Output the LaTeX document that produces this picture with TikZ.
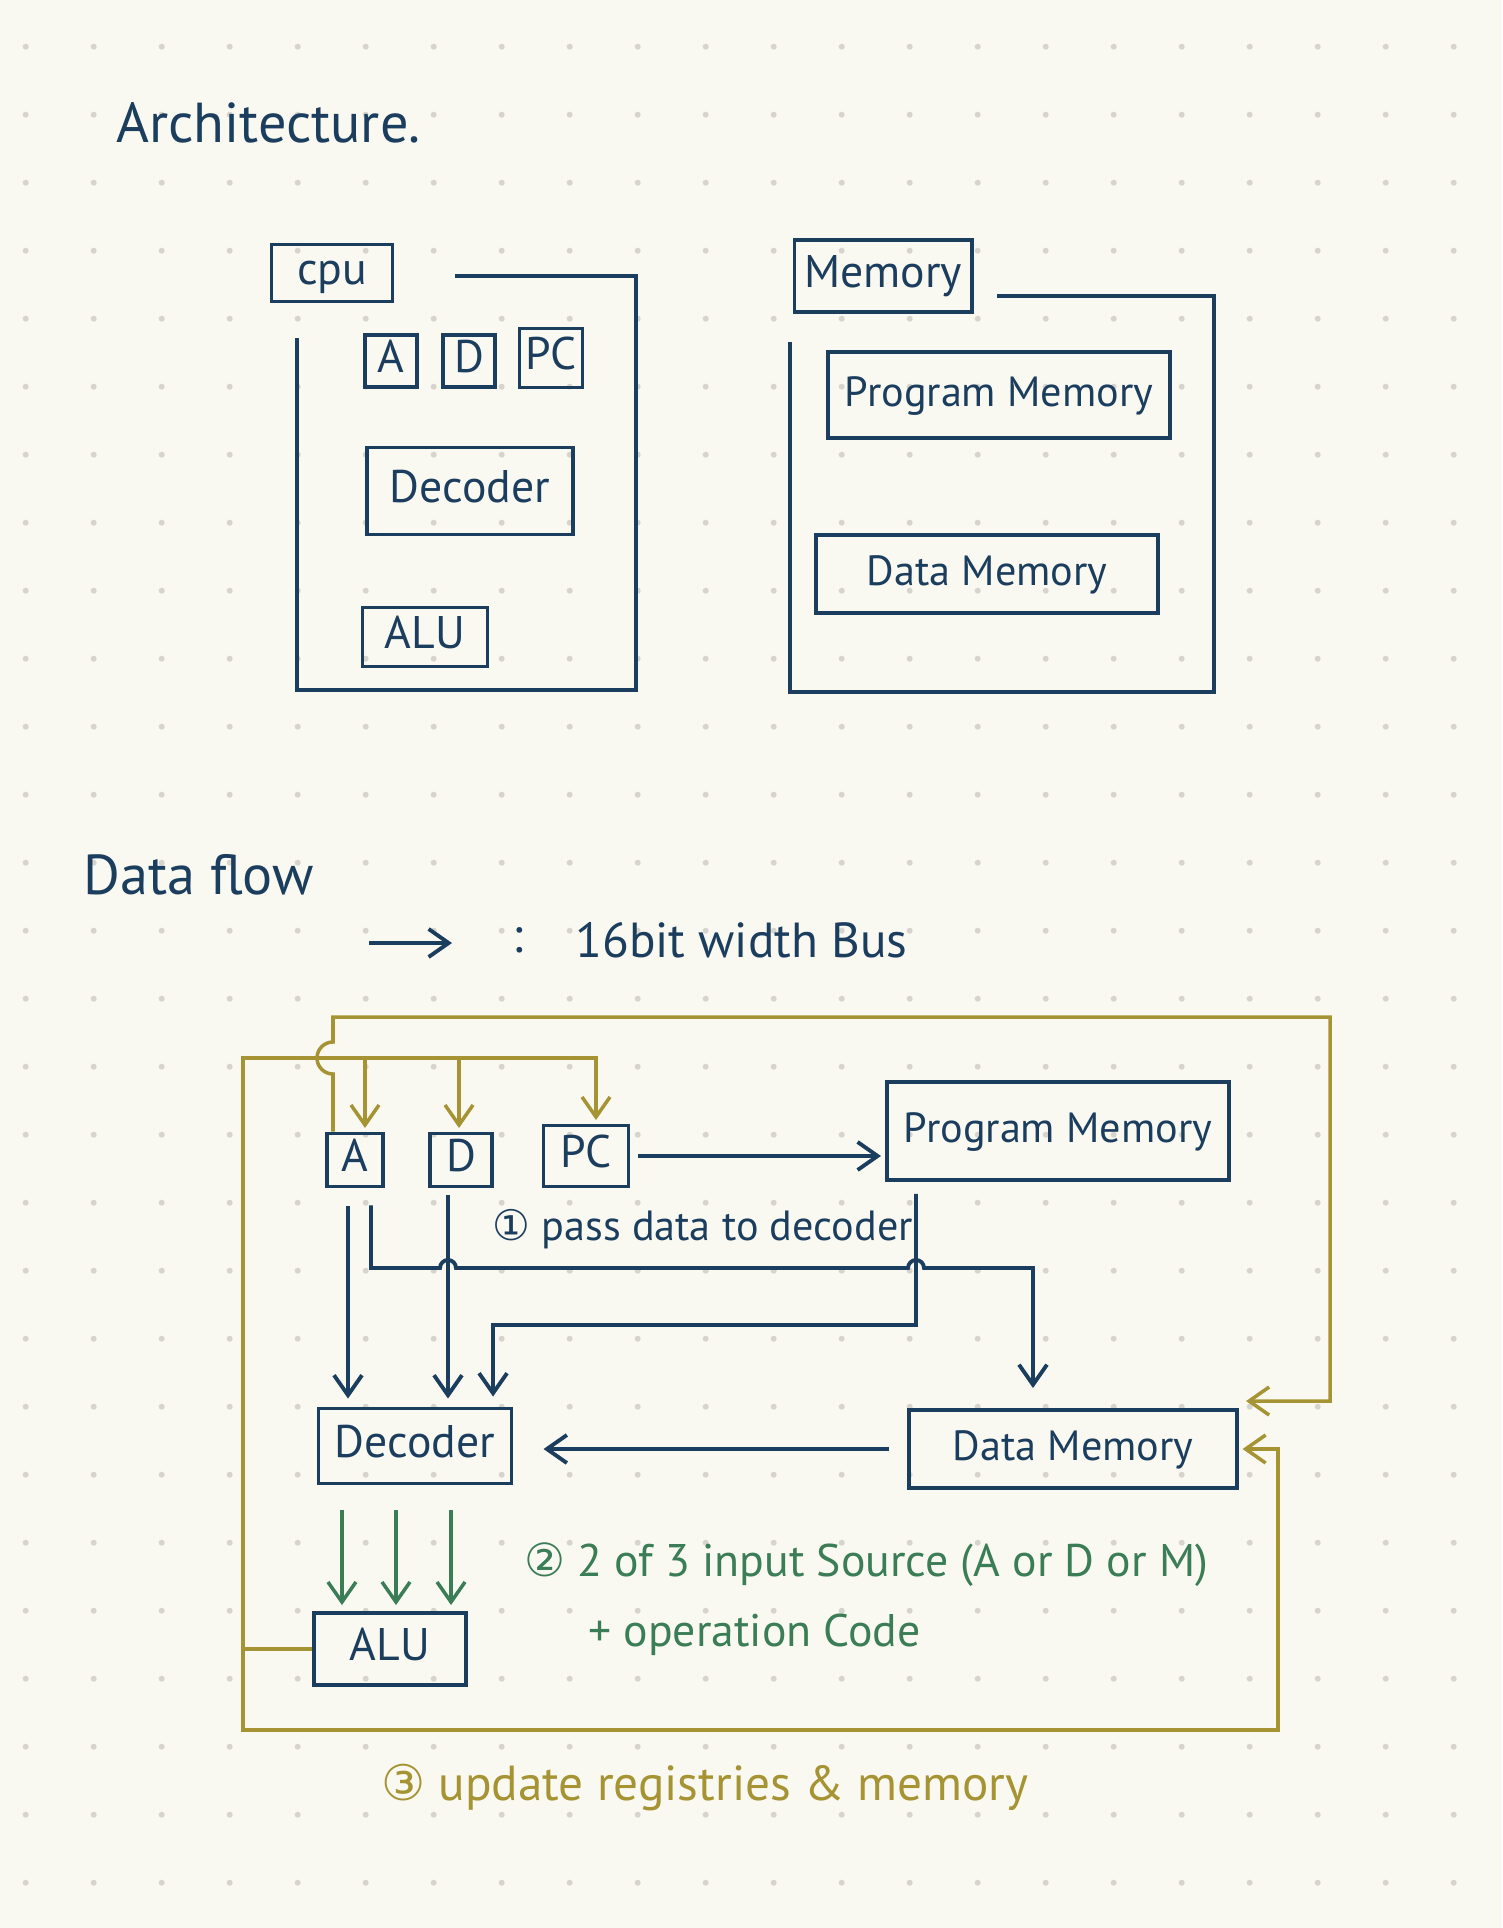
\documentclass[tikz,border=0pt]{standalone}
\usepackage{fontspec}
\setmainfont{PT Sans}
\newfontfamily\circfont{DejaVu Sans}
\usetikzlibrary{arrows.meta}
\definecolor{paper}{RGB}{250,249,241}
\definecolor{griddot}{RGB}{214,212,205}
\definecolor{ink}{RGB}{28,62,94}
\definecolor{busolive}{RGB}{166,148,52}
\definecolor{opgreen}{RGB}{58,125,86}
\tikzset{
  barb/.tip={Straight Barb[length=0.2cm,width=0.28cm]},
  box/.style={draw=ink,line width=1.1pt,text=ink,inner sep=0pt,
    text height=1.5ex,text depth=0.15ex,font=\fontsize{13}{15}\selectfont},
  widebox/.style={box,font=\fontsize{12}{14}\selectfont},
  head/.style={text=ink,anchor=west,font=\fontsize{16}{19}\selectfont},
  note/.style={anchor=west,font=\fontsize{13}{15}\selectfont},
  bus/.style={draw=ink,line width=1.1pt,-barb},
  wb/.style={draw=busolive,line width=1pt},
  op/.style={draw=opgreen,line width=1pt,-barb,shorten <=0.25cm,shorten >=0.06cm}
}
\begin{document}
\begin{tikzpicture}[x=0.01cm,y=-0.01cm]
  \fill[paper] (0,0) rectangle (1502,1928);
  \useasboundingbox (0,0) rectangle (1502,1928);

  \foreach \i in {0,...,21}{% dotted paper
    \foreach \j in {0,...,27}{
      \fill[griddot] (25.7+68*\i,46.7+68*\j) circle (0.03cm);
    }
  }

  % Architecture
  \node[head] (arch) at (104,123) {Architecture.};

  \node[box,minimum width=1.21cm,minimum height=0.57cm] (cpu) at (332,273) {cpu};
  \node[box,minimum width=0.52cm,minimum height=0.52cm] (rA) at (391,361) {A};
  \node[box,minimum width=0.52cm,minimum height=0.52cm] (rD) at (469,361) {D};
  \node[box,minimum width=0.63cm,minimum height=0.59cm] (rPC) at (551,358) {PC};
  \node[box,minimum width=2.06cm,minimum height=0.87cm] (dec) at (470,491) {Decoder};
  \node[box,minimum width=1.25cm,minimum height=0.59cm] (alu) at (425,637) {ALU};
  \draw[ink,line width=1.1pt] (455,276) -- (636,276) -- (636,690) -- (297,690) -- (297,338);

  \node[box,minimum width=1.77cm,minimum height=0.72cm] (mem) at (883,276) {Memory};
  \node[widebox,minimum width=3.42cm,minimum height=0.86cm] (prog) at (999,395) {Program Memory};
  \node[widebox,minimum width=3.41cm,minimum height=0.78cm] (data) at (987,574) {Data Memory};
  \draw[ink,line width=1.1pt] (997,296) -- (1214,296) -- (1214,692) -- (790,692) -- (790,342);

  % Data flow
  \node[head] (flow) at (71,875) {Data flow};
  \coordinate (k1) at (369,943);
  \coordinate (k2) at (452,943);
  \draw[bus] (k1) -- (k2);
  \node[note,text=ink,font=\fontsize{14}{16}\selectfont] (keycolon) at (500,940) {:};
  \node[note,text=ink,font=\fontsize{14}{16}\selectfont] (keytext) at (563,940) {16bit width Bus};

  \node[box,minimum width=0.56cm,minimum height=0.53cm] (fA) at (355,1160) {A};
  \node[box,minimum width=0.62cm,minimum height=0.53cm] (fD) at (461,1160) {D};
  \node[box,minimum width=0.85cm,minimum height=0.61cm] (fPC) at (586,1156) {PC};
  \node[widebox,minimum width=3.42cm,minimum height=0.98cm] (fProg) at (1058,1131) {Program Memory};
  \node[box,minimum width=1.93cm,minimum height=0.75cm] (fDec) at (415,1446) {Decoder};
  \node[widebox,minimum width=3.28cm,minimum height=0.78cm] (fData) at (1073,1449) {Data Memory};
  \node[box,minimum width=1.52cm,minimum height=0.72cm] (fALU) at (390,1649) {ALU};

  % 16 bit buses
  \draw[bus,shorten <=2pt,shorten >=0.04cm] (fPC.east) -- (fPC.east -| fProg.west);
  \coordinate (a1) at ([xshift=-0.07cm]fA.south);
  \draw[bus,shorten <=0.18cm,shorten >=0.08cm] (a1) -- (a1 |- fDec.north);
  \coordinate (d1) at ([xshift=-0.13cm]fD.south);
  \draw[bus,shorten <=0.07cm,shorten >=0.08cm] (d1) -- (d1 |- fDec.north);
  \coordinate (a2) at ([xshift=0.16cm]fA.south);
  \coordinate (dm) at ([xshift=-0.4cm]fData.north);
  \draw[bus,shorten <=0.17cm,shorten >=0.2cm] (a2) |- (440,1268)
    arc[start angle=180,end angle=0,radius=0.08cm] -- (908,1268)
    arc[start angle=180,end angle=0,radius=0.08cm] -| (dm);
  \coordinate (p1) at ([xshift=-1.42cm]fProg.south);
  \coordinate (pk) at (916,1325);
  \coordinate (dc) at ([xshift=0.78cm]fDec.north);
  \draw[bus,shorten <=0.12cm,shorten >=0.1cm] (p1) -- (pk) -| (dc);
  \draw[bus,shorten <=0.18cm,shorten >=0.3cm] (fData.west) -- (fData.west -| fDec.east);
  \node[note,text=ink,font=\fontsize{12}{14}\selectfont] (t1) at (480,1229) {{\circfont ①} pass data to decoder};

  % decoder to alu
  \foreach \dx in {-0.73,-0.19,0.36}{
    \coordinate (g) at ([xshift=\dx cm]fDec.south);
    \draw[op] (g) -- (g |- fALU.north);
  }
  \node[note,text=opgreen] (t2) at (512,1565) {{\circfont ②} 2 of 3 input Source (A or D or M)};
  \node[note,text=opgreen] (t3) at (576,1635) {+ operation Code};

  % write back
  \coordinate (wtop) at (243,1058);
  \coordinate (wbot) at (243,1730);
  \coordinate (wright) at (1278,1730);
  \coordinate (pcin) at ([xshift=0.1cm]fPC.north);
  \draw[wb] (fALU.west) -- (fALU.west -| wbot);
  \draw[wb,barb-barb,shorten <=1pt,shorten >=1pt] (pcin) |- (wtop) -- (wbot) -- (wright) |- (fData.east);
  \foreach \n/\dx in {fA/0.1,fD/-0.02}{
    \coordinate (b) at ([xshift=\dx cm]\n.north);
    \draw[wb,-barb,shorten >=1pt] (b |- wtop) -- (b);
  }
  \coordinate (ain) at ([xshift=-0.22cm]fA.north);
  \coordinate (rtop) at (1330,1017);
  \coordinate (dmc) at ([xshift=0.07cm,yshift=0.07cm]fData.north east);
  \draw[wb,-barb] (ain) -- (333,1074) arc[start angle=270,end angle=90,radius=0.16cm]
    |- (rtop) |- (dmc);
  \node[note,text=busolive,font=\fontsize{14}{16}\selectfont] (t4) at (369,1788) {{\circfont ③} update registries \& memory};
\end{tikzpicture}
\end{document}
